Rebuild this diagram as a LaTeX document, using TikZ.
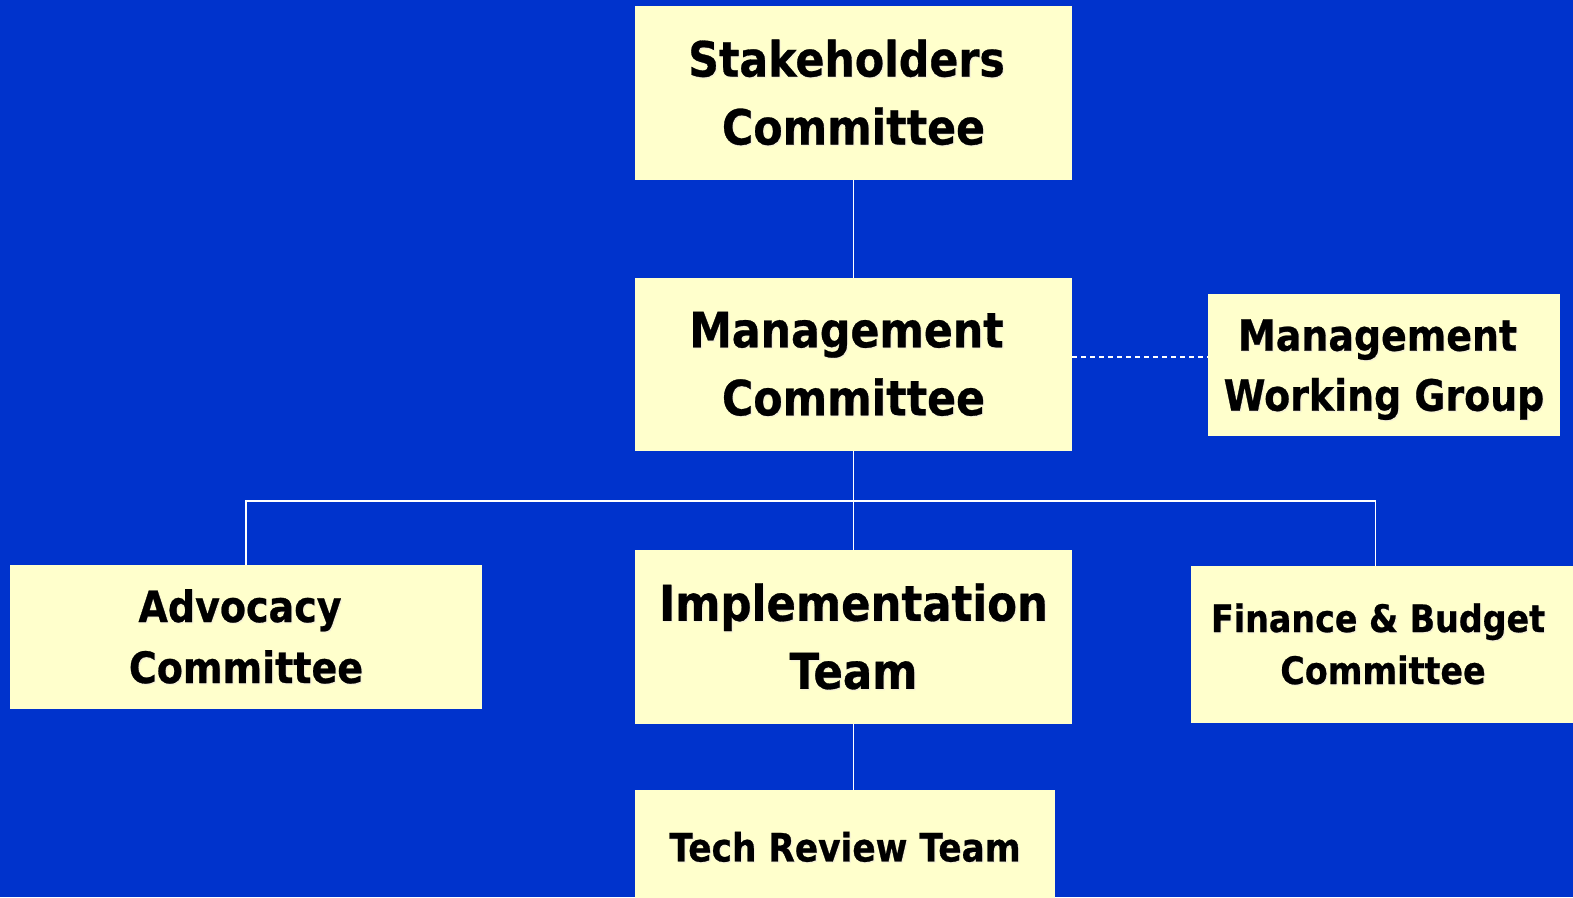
\documentclass[tikz,border=0pt]{standalone}
\usepackage{fontspec}
\newfontfamily\tah{DejaVu Sans}[FakeStretch=0.88,FakeBold=0.6]
\usetikzlibrary{calc}
\definecolor{bg}{HTML}{0033CC}
\definecolor{boxc}{HTML}{FFFFCC}
\definecolor{shc}{HTML}{F4F0D8}
\newcommand{\sh}[1]{\rlap{\kern0.9pt\raisebox{-0.9pt}{\color{shc}#1}}#1}
\begin{document}
\begin{tikzpicture}[x=0.75pt,y=-0.75pt,
  orgbox/.style={draw=none,fill=boxc,rectangle,inner sep=0pt,align=center,text=black},
  link/.style={draw=white,line width=1.1pt},
  dlink/.style={draw=white,line width=1.1pt,dash pattern=on 3.75pt off 3pt}]
\fill[bg] (0,0) rectangle (1573,897);
\useasboundingbox (0,0) rectangle (1573,897);

\node[orgbox,minimum width=437*0.75pt,minimum height=174*0.75pt,
  font={\tah\bfseries\fontsize{36.4pt}{51pt}\selectfont}] (SC) at (853.5,93)
  {\sh{Stakeholders}\hspace*{10.5pt}\\\sh{Committee}};
\node[orgbox,minimum width=437*0.75pt,minimum height=173*0.75pt,
  font={\tah\bfseries\fontsize{36.4pt}{51pt}\selectfont}] (MC) at (853.5,364.5)
  {\sh{Management}\hspace*{10.5pt}\\\sh{Committee}};
\node[orgbox,minimum width=352*0.75pt,minimum height=142*0.75pt,text depth=0pt,
  font={\tah\bfseries\fontsize{32.3pt}{45pt}\selectfont}] (MWG) at (1384,365)
  {\sh{Management}\hspace*{9.6pt}\\\sh{Working Group}};
\node[orgbox,minimum width=472*0.75pt,minimum height=144*0.75pt,
  font={\tah\bfseries\fontsize{32.4pt}{45.75pt}\selectfont}] (AC) at (246,637)
  {\sh{Advocacy}\hspace*{9pt}\\\sh{Committee}};
\node[orgbox,minimum width=437*0.75pt,minimum height=174*0.75pt,
  font={\tah\bfseries\fontsize{37pt}{51pt}\selectfont}] (IT) at (853.5,637)
  {\sh{Implementation}\\\sh{Team}};
\node[orgbox,minimum width=384*0.75pt,minimum height=157*0.75pt,
  font={\tah\bfseries\fontsize{28.4pt}{39pt}\selectfont}] (FB) at (1383,644.5)
  {\sh{Finance \& Budget}\hspace*{7.5pt}\\\sh{Committee}};
\node[orgbox,minimum width=420*0.75pt,minimum height=115*0.75pt,
  font={\tah\bfseries\fontsize{29.3pt}{39pt}\selectfont}] (TR) at (845,847.5)
  {\sh{Tech Review Team}};

\coordinate (j) at (853.5,501);
\coordinate (fbtop) at ($(FB.north west)+(185,0)$);
\coordinate (d) at ($(MC.east)+(0,-7.5)$);

\draw[link] (SC.south) -- (MC.north);
\draw[link] (MC.south) -- (IT.north);
\draw[link] (AC.north) |- (j) -| (fbtop);
\draw[link] (IT.south) -- (IT.south |- TR.north);
\draw[dlink] (d) -- (d -| MWG.west);
\end{tikzpicture}
\end{document}
